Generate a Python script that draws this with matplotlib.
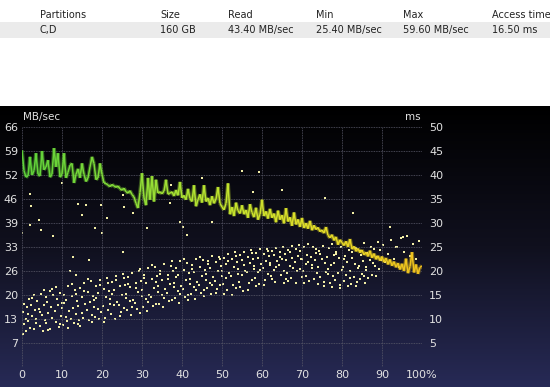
import numpy as np
import matplotlib
matplotlib.use("Agg")
import matplotlib.pyplot as plt
from matplotlib.collections import LineCollection
from matplotlib.colors import LinearSegmentedColormap

# header table
columns = ["Partitions", "Size", "Read", "Min", "Max", "Access time"]
row = ["C,D", "160 GB", "43.40 MB/sec", "25.40 MB/sec", "59.60 MB/sec", "16.50 ms"]
col_px = [40, 160, 228, 316, 403, 492]

# axis labels
mb_ticks = ["7", "13", "20", "26", "33", "39", "46", "52", "59", "66"]
ms_ticks = ["5", "10", "15", "20", "25", "30", "35", "40", "45", "50"]
pos_ticks = ["0", "10", "20", "30", "40", "50", "60", "70", "80", "90", "100%"]

# transfer rate, MB/sec, one sample every 0.5 %
read_rate = [
    59.6, 54.0, 52.2, 52.5, 57.8, 52.8, 54.0, 58.8, 53.0, 52.5,
    59.4, 54.2, 55.0, 56.9, 52.2, 53.0, 60.2, 55.0, 58.8, 52.2,
    53.0, 58.8, 52.0, 53.5, 55.5, 56.0, 50.6, 53.0, 54.5, 52.0,
    56.0, 53.0, 51.0, 52.0, 55.0, 57.8, 56.0, 51.5, 52.0, 56.0,
    53.0, 50.6, 50.5, 50.0, 49.6, 50.2, 49.8, 49.4, 49.8, 49.0,
    48.6, 49.2, 48.2, 47.8, 48.5, 47.4, 46.8, 45.0, 43.7, 48.0,
    53.3, 46.5, 44.5, 52.0, 46.0, 52.5, 45.5, 51.5, 47.8, 48.2,
    47.6, 48.4, 51.5, 47.5, 47.8, 48.2, 47.0, 48.7, 47.2, 50.9,
    46.5, 47.2, 46.0, 49.0, 46.3, 45.5, 50.0, 44.2, 46.0, 47.5,
    45.2, 50.0, 45.5, 46.5, 44.5, 47.0, 45.0, 46.2, 49.5, 45.0,
    44.0, 43.2, 45.0, 50.5, 42.0, 44.0, 41.5, 45.2, 43.0, 42.2,
    44.5, 42.0, 43.2, 41.0, 44.8, 42.5, 41.2, 43.8, 40.5, 42.0,
    46.0, 41.5, 42.8, 40.8, 43.5, 41.0, 42.2, 39.8, 43.0, 40.5,
    41.8, 39.5, 43.7, 40.0, 41.2, 38.8, 42.5, 39.2, 40.6, 38.5,
    41.0, 38.2, 39.6, 38.0, 40.2, 37.6, 39.0, 37.8, 38.4, 37.2,
    37.7, 36.8, 38.5, 36.2, 35.5, 36.4, 34.8, 35.8, 33.6, 35.0,
    34.2, 33.4, 34.6, 33.0, 35.2, 32.4, 33.2, 31.8, 32.6, 31.4,
    32.2, 30.8, 31.6, 30.4, 32.0, 30.0, 31.2, 29.6, 30.6, 29.2,
    30.4, 28.8, 30.0, 28.2, 29.6, 27.8, 29.0, 27.4, 28.6, 26.8,
    28.4, 26.4, 29.8, 25.8, 27.6, 31.6, 26.0, 28.2, 25.6, 27.4,
    27.8,
]

# access time samples (position %, ms)
access_points = [
    (0.2, 11.5), (0.4, 8.9), (0.6, 13.2), (0.9, 10.1), (1.1, 7.4), (1.3, 12.4), (1.6, 9.6), (1.8, 14.1), (0.3, 6.8), (1.5, 11.0),
    (2.1, 8.2), (2.3, 12.9), (2.6, 10.6), (2.9, 15.0), (3.1, 7.9), (3.3, 11.8), (3.6, 9.2), (3.8, 13.7), (2.5, 14.4), (3.4, 10.0),
    (4.2, 12.1), (4.4, 8.6), (4.7, 15.3), (4.9, 10.9), (5.2, 7.5), (5.4, 13.0), (5.7, 9.8), (5.9, 14.6), (4.5, 11.4), (5.5, 16.0),
    (6.1, 9.1), (6.3, 13.5), (6.6, 11.2), (6.9, 15.8), (7.1, 8.0), (7.3, 12.6), (7.6, 10.3), (7.8, 14.9), (6.5, 7.7), (7.4, 16.3),
    (8.2, 11.7), (8.4, 9.4), (8.7, 14.2), (8.9, 12.9), (9.2, 8.3), (9.4, 15.5), (9.7, 10.7), (9.9, 13.4), (8.5, 16.6), (9.5, 9.0),
    (10.1, 12.3), (10.3, 8.7), (10.6, 15.1), (10.9, 10.4), (11.1, 14.0), (11.3, 9.5), (11.6, 16.8), (11.8, 11.6), (10.5, 13.3), (11.5, 8.2),
    (12.2, 10.0), (12.4, 14.7), (12.7, 12.2), (12.9, 9.1), (13.2, 16.1), (13.4, 11.0), (13.7, 13.8), (13.9, 8.9), (12.5, 17.2), (13.5, 15.2),
    (14.1, 12.8), (14.3, 9.8), (14.6, 16.4), (14.9, 11.3), (15.1, 14.5), (15.3, 10.2), (15.6, 17.5), (15.8, 13.1), (14.5, 8.6), (15.5, 15.8),
    (16.2, 11.9), (16.4, 15.6), (16.7, 9.7), (16.9, 13.6), (17.2, 17.9), (17.4, 10.8), (17.7, 14.8), (17.9, 12.4), (16.5, 18.3), (17.5, 9.3),
    (18.1, 13.9), (18.3, 10.5), (18.6, 16.9), (18.9, 12.0), (19.1, 15.4), (19.3, 9.9), (19.6, 18.1), (19.8, 11.5), (18.5, 14.3), (19.5, 17.0),
    (20.2, 12.7), (20.4, 16.2), (20.7, 10.3), (20.9, 14.6), (21.2, 18.6), (21.4, 11.8), (21.7, 15.9), (21.9, 13.2), (20.5, 9.4), (21.5, 17.4),
    (22.1, 14.1), (22.3, 11.0), (22.6, 17.7), (22.9, 12.9), (23.1, 16.0), (23.3, 10.1), (23.6, 19.0), (23.8, 13.5), (22.5, 15.2), (23.5, 18.2),
    (24.2, 13.0), (24.4, 16.8), (24.7, 11.4), (24.9, 15.0), (25.2, 19.3), (25.4, 12.3), (25.7, 17.1), (25.9, 14.4), (24.5, 10.6), (25.5, 18.5),
    (26.1, 15.3), (26.3, 11.9), (26.6, 18.8), (26.9, 13.7), (27.1, 16.6), (27.3, 10.9), (27.6, 19.6), (27.8, 14.0), (26.5, 17.3), (27.5, 12.5),
    (28.2, 13.4), (28.4, 17.6), (28.7, 12.0), (28.9, 15.7), (29.2, 19.9), (29.4, 11.3), (29.7, 18.0), (29.9, 14.8), (28.5, 16.4), (29.5, 20.4),
    (30.1, 16.1), (30.3, 12.6), (30.6, 19.2), (30.9, 14.2), (31.1, 17.4), (31.3, 11.7), (31.6, 20.6), (31.8, 15.1), (30.5, 18.5), (31.5, 13.6),
    (32.2, 14.5), (32.4, 18.3), (32.7, 12.8), (32.9, 16.5), (33.2, 20.8), (33.4, 13.2), (33.7, 19.0), (33.9, 15.6), (32.5, 21.2), (33.5, 17.7),
    (34.1, 16.9), (34.3, 13.1), (34.6, 20.1), (34.9, 15.0), (35.1, 18.2), (35.3, 12.4), (35.6, 21.5), (35.8, 16.2), (34.5, 19.4), (35.5, 14.3),
    (36.2, 15.4), (36.4, 19.2), (36.7, 13.8), (36.9, 17.3), (37.2, 21.0), (37.4, 14.0), (37.7, 20.0), (37.9, 16.6), (36.5, 18.4), (37.5, 22.1),
    (38.1, 17.6), (38.3, 14.3), (38.6, 20.7), (38.9, 15.9), (39.1, 19.1), (39.3, 13.4), (39.6, 22.0), (39.8, 16.9), (38.5, 18.8), (39.5, 15.2),
    (40.2, 16.3), (40.4, 20.2), (40.7, 14.6), (40.9, 18.1), (41.2, 21.6), (41.4, 15.0), (41.7, 19.5), (41.9, 17.2), (40.5, 22.5), (41.5, 13.9),
    (42.1, 18.4), (42.3, 15.3), (42.6, 21.3), (42.9, 16.7), (43.1, 19.8), (43.3, 14.2), (43.6, 22.6), (43.8, 17.8), (42.5, 20.5), (43.5, 16.0),
    (44.2, 17.0), (44.4, 20.9), (44.7, 15.5), (44.9, 19.0), (45.2, 22.3), (45.4, 16.1), (45.7, 20.3), (45.9, 18.2), (44.5, 23.0), (45.5, 14.8),
    (46.1, 19.3), (46.3, 16.4), (46.6, 22.1), (46.9, 17.6), (47.1, 20.6), (47.3, 15.2), (47.6, 23.2), (47.8, 18.7), (46.5, 21.4), (47.5, 17.0),
    (48.2, 18.0), (48.4, 21.8), (48.7, 16.3), (48.9, 19.9), (49.2, 23.0), (49.4, 17.1), (49.7, 21.1), (49.9, 19.0), (48.5, 15.4), (49.5, 22.4),
    (50.1, 20.1), (50.3, 17.3), (50.6, 22.8), (50.9, 18.6), (51.1, 21.5), (51.3, 16.0), (51.6, 23.6), (51.8, 19.6), (50.5, 15.2), (51.5, 22.0),
    (52.2, 18.9), (52.4, 22.6), (52.7, 17.0), (52.9, 20.8), (53.2, 23.9), (53.4, 16.4), (53.7, 21.9), (53.9, 19.4), (52.5, 14.9), (53.5, 23.1),
    (54.1, 20.4), (54.3, 17.8), (54.6, 23.4), (54.9, 19.1), (55.1, 22.2), (55.3, 15.8), (55.6, 24.0), (55.8, 20.0), (54.5, 16.6), (55.5, 21.3),
    (56.2, 19.7), (56.4, 23.0), (56.7, 17.4), (56.9, 21.6), (57.2, 24.3), (57.4, 18.1), (57.7, 22.5), (57.9, 20.5), (56.5, 16.0), (57.5, 23.7),
    (58.1, 21.0), (58.3, 18.5), (58.6, 23.8), (58.9, 19.8), (59.1, 22.7), (59.3, 17.2), (59.6, 24.5), (59.8, 21.4), (58.5, 16.8), (59.5, 20.3),
    (60.2, 20.6), (60.4, 23.5), (60.7, 18.2), (60.9, 22.0), (61.2, 24.6), (61.4, 19.3), (61.7, 23.1), (61.9, 21.2), (60.5, 17.1), (61.5, 24.2),
    (62.1, 21.7), (62.3, 19.0), (62.6, 24.1), (62.9, 20.3), (63.1, 23.3), (63.3, 17.8), (63.6, 24.8), (63.8, 22.1), (62.5, 18.4), (63.5, 20.9),
    (64.2, 21.3), (64.4, 24.0), (64.7, 19.2), (64.9, 22.6), (65.2, 25.0), (65.4, 20.0), (65.7, 23.6), (65.9, 18.3), (64.5, 22.9), (65.5, 17.5),
    (66.1, 22.3), (66.3, 19.6), (66.6, 24.4), (66.9, 21.0), (67.1, 23.9), (67.3, 18.6), (67.6, 25.2), (67.8, 20.7), (66.5, 17.9), (67.5, 22.8),
    (68.2, 21.8), (68.4, 24.6), (68.7, 19.9), (68.9, 23.2), (69.2, 25.4), (69.4, 20.4), (69.7, 22.4), (69.9, 18.8), (68.5, 17.4), (69.5, 24.1),
    (70.1, 22.6), (70.3, 20.1), (70.6, 24.9), (70.9, 21.5), (71.1, 19.0), (71.3, 23.4), (71.6, 25.6), (71.8, 18.0), (70.5, 17.6), (71.5, 21.9),
    (72.2, 23.0), (72.4, 20.6), (72.7, 25.1), (72.9, 18.4), (73.2, 22.2), (73.4, 24.5), (73.7, 19.5), (73.9, 17.2), (72.5, 21.3), (73.5, 23.8),
    (74.1, 20.9), (74.3, 24.2), (74.6, 18.7), (74.9, 22.5), (75.2, 25.3), (75.4, 17.8), (75.7, 21.6), (75.9, 19.8), (74.5, 23.5), (75.5, 16.9),
    (76.2, 22.9), (76.4, 19.4), (76.7, 24.7), (76.9, 17.5), (77.2, 21.2), (77.4, 25.7), (77.7, 18.9), (77.9, 23.3), (76.5, 20.5), (77.5, 16.7),
    (78.1, 21.7), (78.3, 18.2), (78.6, 24.0), (78.9, 19.6), (79.2, 22.8), (79.4, 17.0), (79.7, 25.0), (79.9, 20.2), (78.5, 23.6), (79.5, 16.5),
    (80.2, 20.8), (80.4, 17.9), (80.7, 23.1), (80.9, 19.1), (81.2, 21.9), (81.4, 16.8), (81.7, 24.4), (81.9, 18.5), (80.5, 22.4), (81.5, 25.5),
    (82.1, 19.9), (82.3, 17.3), (82.6, 22.7), (82.9, 18.8), (83.2, 21.4), (83.4, 24.8), (83.7, 17.7), (83.9, 20.6), (82.5, 23.9), (83.5, 16.9),
    (84.2, 21.1), (84.4, 18.3), (84.7, 23.4), (84.9, 19.4), (85.2, 22.0), (85.4, 25.8), (85.7, 17.4), (85.9, 20.9), (84.5, 24.2), (85.5, 18.9),
    (86.1, 20.3), (86.3, 23.7), (86.6, 18.6), (86.9, 22.3), (87.2, 25.1), (87.4, 19.2), (87.7, 21.6), (87.9, 24.6),
    (88.2, 21.0), (88.4, 19.0), (88.7, 23.0), (88.9, 26.0), (89.2, 20.4), (89.5, 24.3), (89.8, 22.2),
    (90.3, 25.4), (90.8, 21.8), (91.5, 23.6), (92.2, 26.4), (92.9, 22.5), (93.5, 24.9), (94.2, 20.9), (94.8, 26.8),
    (95.5, 24.0), (96.3, 27.2), (97.0, 23.1), (97.8, 25.6), (98.5, 22.4), (99.2, 26.3),
    # outliers
    (2.0, 36.0), (2.3, 33.5), (0.0, 28.0), (4.3, 30.6), (2.0, 29.6), (4.8, 28.5), (7.8, 27.2), (10.0, 38.3),
    (14.0, 34.0), (16.0, 33.7), (15.0, 31.7), (18.3, 29.0), (19.8, 33.7), (20.0, 28.0), (21.3, 31.0),
    (25.5, 33.3), (25.3, 35.8), (27.8, 32.0), (31.3, 29.0), (37.0, 34.2), (37.3, 38.0), (39.5, 30.2),
    (40.3, 29.2), (41.3, 27.5), (45.0, 39.4), (47.5, 30.2), (55.0, 40.8), (57.8, 36.5), (59.3, 40.6),
    (65.0, 36.9), (75.8, 35.2), (82.8, 32.0), (92.0, 29.2), (95.3, 27.0), (93.8, 25.0),
    (12.8, 23.0), (13.5, 19.2), (16.8, 22.3), (25.3, 24.0), (12.0, 20.0),
    (-0.3, 5.8), (-0.2, 4.0), (-0.4, 0.4),
]

W, H = 550, 387
fig = plt.figure(figsize=(W / 100, H / 100), dpi=100)
fig.patch.set_facecolor("white")

# table header + selected row
fig.patches.append(plt.Rectangle((0, 1 - 38 / H), 1, 16 / H, transform=fig.transFigure,
                                 facecolor="#ebebeb", edgecolor="none"))
for name, val, px in zip(columns, row, col_px):
    fig.text(px / W, 1 - 15 / H, name, fontsize=7, color="#222222", va="center")
    fig.text(px / W, 1 - 30 / H, val, fontsize=7, color="#222222", va="center")

# dark gradient panel behind the chart
bg = fig.add_axes([0, 0, 1, (H - 106) / H])
grad = np.linspace(0, 1, 256).reshape(-1, 1)
cmap_bg = LinearSegmentedColormap.from_list("bg", ["#000000", "#10101e", "#272a56"])
bg.imshow(grad, aspect="auto", cmap=cmap_bg, extent=[0, 1, 0, 1], origin="upper")
bg.set_axis_off()

# plot area
left, right, top, bottom = 22, 422, 127, 367
ax = fig.add_axes([left / W, (H - bottom) / H, (right - left) / W, (bottom - top) / H])
ax.set_facecolor("none")
ax.set_xlim(0, 100)
ax.set_ylim(0, 66)
for s in ax.spines.values():
    s.set_visible(False)
ax.set_xticks(np.arange(0, 101, 10))
ax.set_xticklabels(pos_ticks)
ax.set_yticks(np.arange(1, 11) * 6.6)
ax.set_yticklabels(mb_ticks)
ax.tick_params(length=0, colors="#e2e2e2", labelsize=8)
ax.tick_params(axis="y", pad=3)
ax.tick_params(axis="x", pad=2)
ax.grid(True, color="#5a5a6a", linestyle=(0, (1, 1)), linewidth=0.6)

# access time on the right axis
ax2 = ax.twinx()
ax2.set_ylim(0, 50)
for s in ax2.spines.values():
    s.set_visible(False)
ax2.set_yticks(np.arange(5, 51, 5))
ax2.set_yticklabels(ms_ticks)
ax2.tick_params(length=0, colors="#e2e2e2", labelsize=8, pad=5)

acc_x = [p[0] for p in access_points]
acc_ms = [p[1] for p in access_points]
ax2.scatter(acc_x, acc_ms, s=1.1, marker="s", color="#f2eea6", linewidths=0, zorder=2)

# transfer rate line, green -> yellow along the disk
xs = np.linspace(0, 100, len(read_rate))
pts = np.column_stack([xs, read_rate]).reshape(-1, 1, 2)
segs = np.concatenate([pts[:-1], pts[1:]], axis=1)
line_cmap = LinearSegmentedColormap.from_list(
    "rate", ["#5ed23a", "#86dc38", "#c2e42e", "#e4dc28", "#f0c01c"])
cols = line_cmap(xs[:-1] / 100)
ax.add_collection(LineCollection(segs, colors=cols, linewidths=2.8, alpha=0.35, zorder=3))
ax.add_collection(LineCollection(segs, colors=cols, linewidths=1.1, zorder=4))
ax.set_zorder(ax2.get_zorder() + 1)

fig.text(23 / W, 1 - 117 / H, "MB/sec", fontsize=7.5, color="#e2e2e2", va="center")
fig.text(405 / W, 1 - 117 / H, "ms", fontsize=7.5, color="#e2e2e2", va="center")

fig.savefig("out.png", dpi=100, facecolor=fig.get_facecolor())
